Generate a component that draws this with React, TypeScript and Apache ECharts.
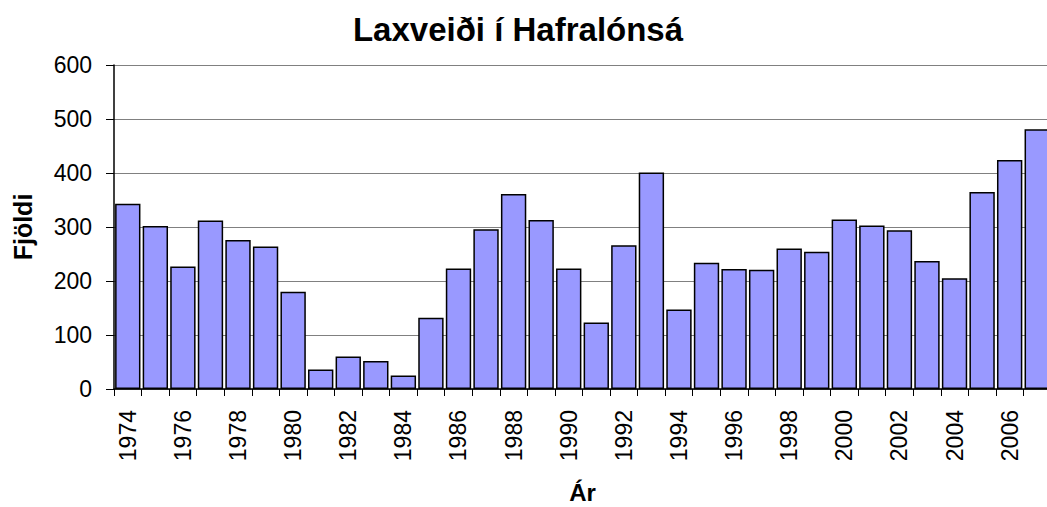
import React, { useEffect, useRef } from "react";
import * as echarts from "echarts";

const years = [
  "1974", "1975", "1976", "1977", "1978", "1979", "1980", "1981", "1982", "1983",
  "1984", "1985", "1986", "1987", "1988", "1989", "1990", "1991", "1992", "1993",
  "1994", "1995", "1996", "1997", "1998", "1999", "2000", "2001", "2002", "2003",
  "2004", "2005", "2006", "2007",
];
const catch_ = [
  343, 302, 227, 312, 276, 264, 180, 36, 60, 52,
  25, 132, 223, 296, 361, 313, 223, 123, 266, 401,
  147, 234, 222, 221, 260, 254, 314, 303, 294, 237,
  205, 365, 424, 481,
];
const yTicks = [0, 100, 200, 300, 400, 500, 600];

export default function App() {
  const ref = useRef<HTMLDivElement>(null);
  useEffect(() => {
    if (!ref.current) return;
    const chart = echarts.init(ref.current, null, { renderer: "svg" });
    const font = "Liberation Sans, Arial, sans-serif";
    chart.setOption({
      animation: false,
      backgroundColor: "#ffffff",
      title: {
        text: "Laxveiði í Hafralónsá",
        left: 513,
        textAlign: "center",
        top: 8,
        textStyle: { fontFamily: font, fontSize: 33, fontWeight: "bold", color: "#000" },
      },
      grid: {
        left: 114,
        top: 65,
        width: 937,
        height: 324,
        containLabel: false,
        outerBoundsMode: "none",
      },
      xAxis: {
        type: "category",
        data: years,
        name: "Ár",
        nameLocation: "middle",
        nameGap: 91,
        nameTextStyle: { fontFamily: font, fontSize: 24, fontWeight: "bold", color: "#000" },
        axisLine: { lineStyle: { color: "#000", width: 1.5 } },
        axisTick: { show: true, alignWithLabel: false, interval: 0, length: 7, lineStyle: { color: "#000" } },
        axisLabel: {
          interval: 1,
          rotate: 90,
          margin: 21,
          fontFamily: font,
          fontSize: 23,
          color: "#000",
        },
        splitLine: { show: false },
      },
      yAxis: {
        type: "value",
        min: 0,
        max: 600,
        interval: 100,
        name: "Fjöldi",
        nameLocation: "middle",
        nameGap: 79,
        nameRotate: 90,
        nameTextStyle: { fontFamily: font, fontSize: 25, fontWeight: "bold", color: "#000" },
        axisLine: { show: true, lineStyle: { color: "#000", width: 1.5 } },
        axisTick: { show: true, length: 8, lineStyle: { color: "#000" } },
        axisLabel: {
          margin: 22,
          fontFamily: font,
          fontSize: 23,
          color: "#000",
          formatter: (v: number) => (yTicks.includes(v) ? String(v) : ""),
        },
        splitLine: { show: true, lineStyle: { color: "#808080", width: 1 } },
      },
      series: [
        {
          type: "bar",
          data: catch_,
          barCategoryGap: "8%",
          itemStyle: { color: "#9999FF", borderColor: "#000", borderWidth: 1.5 },
        },
      ],
    });
    return () => chart.dispose();
  }, []);
  return (
    <div
      ref={ref}
      style={{ position: "fixed", left: 0, top: 0, width: 1047, height: 507, overflow: "hidden" }}
    />
  );
}
